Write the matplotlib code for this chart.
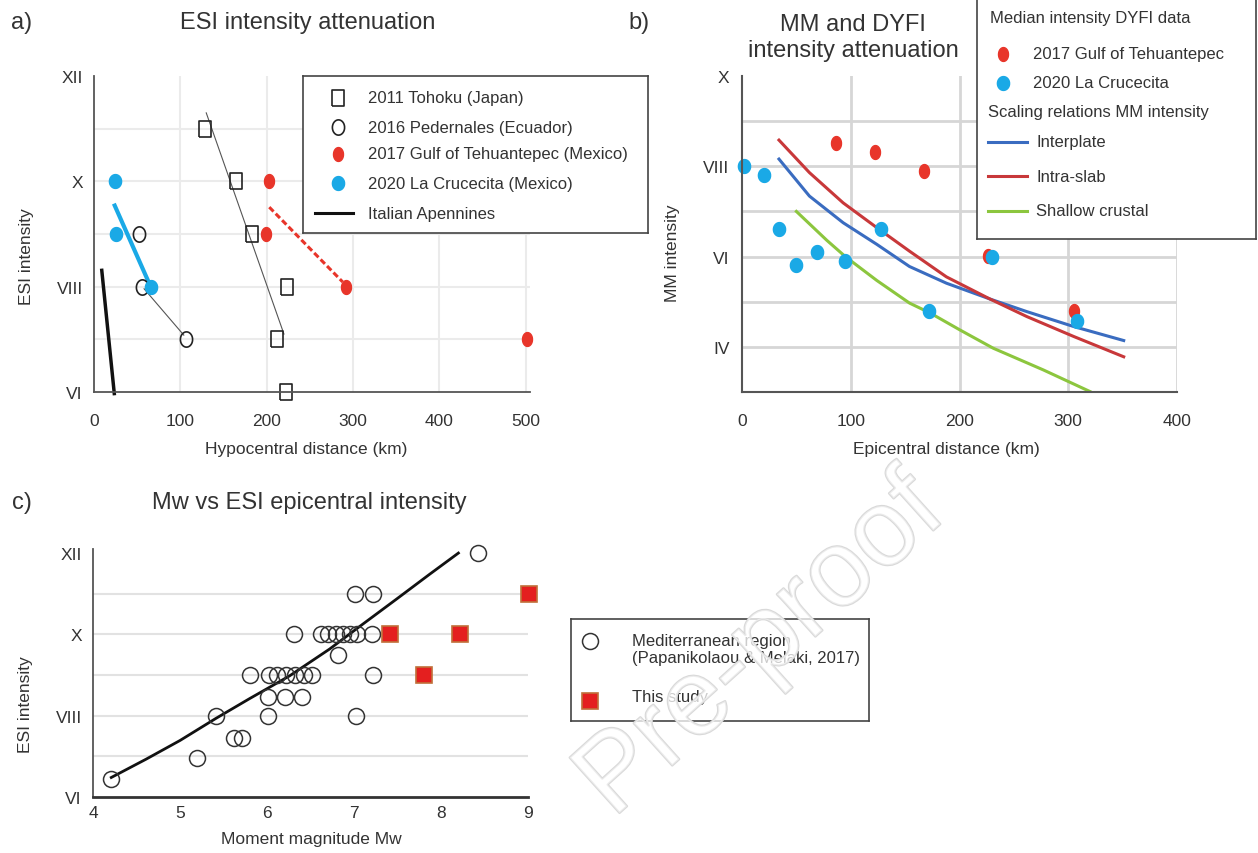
import matplotlib
matplotlib.use("Agg")
import matplotlib.pyplot as plt
import matplotlib.patheffects as pe
import numpy as np

plt.rcParams['font.family'] = ['Liberation Sans', 'DejaVu Sans']
plt.rcParams['text.color'] = '#333333'

W, H = 1258, 854

# a) ESI intensity vs hypocentral distance (km)
tohoku_km = [128, 164, 183, 224, 212, 222]
tohoku_esi = [11, 10, 9, 8, 7, 6]
tohoku_fit_km = [130, 220]
tohoku_fit_esi = [11.3, 7.1]
pedernales_km = [52, 56, 107]
pedernales_esi = [9, 8, 7]
pedernales_fit_km = [58, 104]
pedernales_fit_esi = [7.96, 7.08]
tehuantepec_km = [203, 199, 292, 501]
tehuantepec_esi = [10, 9, 8, 7]
tehuantepec_fit_km = [203, 288]
tehuantepec_fit_esi = [9.51, 8.09]
crucecita_km = [24, 25, 66]
crucecita_esi = [10, 9, 8]
crucecita_fit_km = [24, 64]
crucecita_fit_esi = [9.54, 8.06]
apennines_km = [9, 23.5]
apennines_esi = [8.31, 5.97]

# b) MM / DYFI intensity vs epicentral distance (km)
dyfi_teh_km = [86, 122, 167, 226, 305]
dyfi_teh_mm = [8.51, 8.32, 7.90, 6.01, 4.80]
dyfi_cru_km = [1.5, 20, 34, 50, 69, 95, 128, 172, 230, 308]
dyfi_cru_mm = [8.0, 7.8, 6.6, 5.81, 6.10, 5.90, 6.6, 4.8, 6.0, 4.58]
curve_km = [34, 62, 93, 124, 154, 188, 228, 262, 305, 351]
interplate_mm = [8.16, 7.34, 6.75, 6.27, 5.78, 5.41, 5.06, 4.78, 4.45, 4.14]
intraslab_mm = [8.58, 7.86, 7.19, 6.64, 6.12, 5.55, 5.06, 4.67, 4.23, 3.78]
shallow_km = [50, 78, 95, 124, 154, 173, 200, 231, 277, 320]
shallow_mm = [7.0, 6.36, 6.0, 5.47, 4.97, 4.75, 4.38, 3.97, 3.49, 3.01]

# c) Mw vs ESI epicentral intensity
med_mw = [8.42, 7.01, 7.22,
          6.31, 6.62, 6.70, 6.79, 6.87, 6.95, 7.03, 7.21,
          6.82,
          5.81, 6.02, 6.12, 6.22, 6.32, 6.42, 6.52, 7.22,
          6.01, 6.21, 6.40,
          5.41, 6.01, 7.02,
          5.62, 5.71, 5.20, 4.21]
med_esi = [12, 11, 11,
           10, 10, 10, 10, 10, 10, 10, 10,
           9.5,
           9, 9, 9, 9, 9, 9, 9, 9,
           8.45, 8.45, 8.45,
           8, 8, 8,
           7.45, 7.45, 6.95, 6.45]
study_mw = [7.41, 8.22, 7.81, 9.01]
study_esi = [10, 10, 9, 11]
fit_mw = [4.21, 4.61, 5.0, 5.41, 5.80, 6.26, 6.72, 7.10, 7.49, 7.87, 8.20]
fit_esi = [6.48, 6.93, 7.39, 7.93, 8.42, 8.98, 9.64, 10.25, 10.87, 11.48, 12.0]

esi_ticks = [6, 8, 10, 12]
esi_labels = ['VI', 'VIII', 'X', 'XII']
mm_ticks = [4, 6, 8, 10]
mm_labels = ['IV', 'VI', 'VIII', 'X']

RED = '#e8352a'
BLUE = '#1aa9e6'


def rect(l, t, r, b):
    return [l / W, 1 - b / H, (r - l) / W, (b - t) / H]


def ftext(x, y, s, **kw):
    fig.text(x / W, 1 - y / H, s, **kw)


def ellipse(w, h):
    t = np.linspace(0, 2 * np.pi, 41)
    return np.column_stack([w * np.cos(t), h * np.sin(t)])


def box(w, h):
    return [(-w, -h), (w, -h), (w, h), (-w, h), (-w, -h)]


def style_axes(ax, lw=1.3):
    for s in ['top', 'right']:
        ax.spines[s].set_visible(False)
    for s in ['left', 'bottom']:
        ax.spines[s].set_color('#555555')
        ax.spines[s].set_linewidth(lw)
    ax.tick_params(which='both', length=0, labelsize=12.5, colors='#333333')


def grid_lines(ax, xs, ys, color, lw):
    for v in xs:
        ax.axvline(v, color=color, lw=lw, zorder=0)
    for v in ys:
        ax.axhline(v, color=color, lw=lw, zorder=0)


def legend_axes(l, t, r, b):
    lax = fig.add_axes(rect(l, t, r, b))
    lax.set_xlim(l, r)
    lax.set_ylim(b, t)
    lax.set_xticks([])
    lax.set_yticks([])
    for s in lax.spines.values():
        s.set_color('#444444')
        s.set_linewidth(1.2)
    return lax


fig = plt.figure(figsize=(W / 100, H / 100), dpi=100)

SQ = box(0.83, 1)
OV = ellipse(0.8, 1)
RD = ellipse(0.72, 1)
BD = ellipse(0.88, 1)

# ---------------- panel a ----------------
ax = fig.add_axes(rect(94, 77, 530, 393))
style_axes(ax)
ax.set_xlim(0, 505)
ax.set_ylim(6, 12)
ax.set_xticks([0, 100, 200, 300, 400, 500])
ax.set_yticks(esi_ticks, esi_labels)
grid_lines(ax, [100, 200, 300, 400, 500], [7, 8, 9, 10, 11], '#ebebeb', 1.5)
ax.tick_params(axis='x', pad=15)
ax.tick_params(axis='y', pad=8)

ax.plot(tohoku_fit_km, tohoku_fit_esi, color='#555555', lw=0.8)
ax.plot(pedernales_fit_km, pedernales_fit_esi, color='#555555', lw=0.8)
ax.plot(tehuantepec_fit_km, tehuantepec_fit_esi, color=RED, lw=2.2, dashes=(2, 1))
ax.plot(crucecita_fit_km, crucecita_fit_esi, color=BLUE, lw=3)
ax.plot(apennines_km, apennines_esi, color='#111111', lw=2.5, clip_on=False)
ax.plot(tohoku_km, tohoku_esi, ls='none', marker=SQ, ms=11, mfc='none', mec='#222222', mew=1.2, clip_on=False)
ax.plot(pedernales_km, pedernales_esi, ls='none', marker=OV, ms=11, mfc='none', mec='#222222', mew=1.2)
ax.plot(tehuantepec_km, tehuantepec_esi, ls='none', marker=RD, ms=10, color=RED, clip_on=False)
ax.plot(crucecita_km, crucecita_esi, ls='none', marker=BD, ms=10, color=BLUE)

ftext(11, 23, 'a)', fontsize=17, va='center')
ftext(308, 23, 'ESI intensity attenuation', fontsize=17, ha='center', va='center')
ftext(27, 257, 'ESI intensity', fontsize=12.5, rotation=90, ha='center', va='center')
ftext(306, 450, 'Hypocentral distance (km)', fontsize=12.5, ha='center', va='center')

lax = legend_axes(303, 77, 648, 234)
rows = [99, 128, 155, 184, 214]
lax.plot(338, rows[0], marker=SQ, ms=11, mfc='none', mec='#222222', mew=1.2)
lax.plot(338, rows[1], marker=OV, ms=11, mfc='none', mec='#222222', mew=1.2)
lax.plot(338, rows[2], marker=RD, ms=10, color=RED)
lax.plot(338, rows[3], marker=BD, ms=10, color=BLUE)
lax.plot([315, 353], [rows[4], rows[4]], color='#111111', lw=2.2)
for yy, s in zip(rows, ['2011 Tohoku (Japan)', '2016 Pedernales (Ecuador)',
                        '2017 Gulf of Tehuantepec (Mexico)', '2020 La Crucecita (Mexico)',
                        'Italian Apennines']):
    lax.text(368, yy, s, fontsize=12, va='center')

# ---------------- panel b ----------------
bx = fig.add_axes(rect(742, 77, 1177, 393))
style_axes(bx, lw=1.5)
bx.set_xlim(0, 400)
bx.set_ylim(3, 10)
bx.set_xticks([0, 100, 200, 300, 400])
bx.set_yticks(mm_ticks, mm_labels)
grid_lines(bx, [100, 200, 300, 400], [4, 5, 6, 7, 8, 9], '#d6d6d6', 2)
bx.tick_params(axis='x', pad=15)
bx.tick_params(axis='y', pad=9)

bx.plot(curve_km, interplate_mm, color='#3a6cc0', lw=2.2)
bx.plot(curve_km, intraslab_mm, color='#c8383a', lw=2.2)
bx.plot(shallow_km, shallow_mm, color='#8cc63e', lw=2.2)
bx.plot(dyfi_teh_km, dyfi_teh_mm, ls='none', marker=RD, ms=10, color=RED)
bx.plot(dyfi_cru_km, dyfi_cru_mm, ls='none', marker=BD, ms=10, color=BLUE, clip_on=False)

ftext(628, 23, 'b)', fontsize=17, va='center')
ftext(853, 38, 'MM and DYFI\nintensity attenuation', fontsize=17, ha='center',
      va='center', linespacing=1.2)
ftext(673, 253, 'MM intensity', fontsize=12.5, rotation=90, ha='center', va='center')
ftext(946, 450, 'Epicentral distance (km)', fontsize=12.5, ha='center', va='center')

lbx = legend_axes(977, -2, 1256, 240)
lbx.set_facecolor('white')
lbx.text(990, 18, 'Median intensity DYFI data', fontsize=12, va='center')
lbx.plot(1003, 55, marker=RD, ms=10, color=RED)
lbx.text(1033, 55, '2017 Gulf of Tehuantepec', fontsize=12, va='center')
lbx.plot(1003, 84, marker=BD, ms=10, color=BLUE)
lbx.text(1033, 84, '2020 La Crucecita', fontsize=12, va='center')
lbx.text(988, 113, 'Scaling relations MM intensity', fontsize=12, va='center')
for yy, c, s in [(143, '#3a6cc0', 'Interplate'), (177, '#c8383a', 'Intra-slab'),
                 (212, '#8cc63e', 'Shallow crustal')]:
    lbx.plot([988, 1027], [yy, yy], color=c, lw=2.2)
    lbx.text(1036, yy, s, fontsize=12, va='center')

# ---------------- panel c ----------------
cx = fig.add_axes(rect(93, 550, 528, 798))
style_axes(cx)
cx.spines['bottom'].set_linewidth(2)
cx.spines['bottom'].set_color('#333333')
cx.set_xlim(4, 9)
cx.set_ylim(6, 12.1)
cx.set_xticks([4, 5, 6, 7, 8, 9])
cx.set_yticks(esi_ticks, esi_labels)
grid_lines(cx, [], [7, 8, 9, 10, 11], '#e2e2e2', 1.5)
cx.tick_params(axis='x', pad=6)
cx.tick_params(axis='y', pad=8)

cx.plot(fit_mw, fit_esi, color='#111111', lw=2)
cx.plot(med_mw, med_esi, ls='none', marker='o', ms=11.5, mfc='none', mec='#333333', mew=1.1, clip_on=False)
cx.plot(study_mw, study_esi, ls='none', marker='s', ms=11.5, mfc='#e41f1f', mec='#c0703a', mew=1.2, clip_on=False)

ftext(12, 503, 'c)', fontsize=17, va='center')
ftext(309, 503, 'Mw vs ESI epicentral intensity', fontsize=17, ha='center', va='center')
ftext(26, 705, 'ESI intensity', fontsize=12.5, rotation=90, ha='center', va='center')
ftext(311, 840, 'Moment magnitude Mw', fontsize=12.5, ha='center', va='center')

lcx = legend_axes(571, 620, 869, 722)
lcx.plot(590, 642, marker='o', ms=11.5, mfc='none', mec='#333333', mew=1.1)
lcx.text(632, 650, 'Mediterranean region\n(Papanikolaou & Melaki, 2017)', fontsize=12,
         va='center', linespacing=1.15)
lcx.plot(590, 702, marker='s', ms=11.5, mfc='#e41f1f', mec='#c0703a', mew=1.2)
lcx.text(632, 698, 'This study', fontsize=12, va='center')

# watermark
fig.text(762 / W, 1 - 648 / H, 'Pre-proof', fontsize=78, rotation=42,
         ha='center', va='center', rotation_mode='anchor', color=(1, 1, 1, 0.5),
         path_effects=[pe.Stroke(linewidth=1.6, foreground='#d9d9d9'), pe.Normal()],
         zorder=20)

fig.savefig('out.png', dpi=100, facecolor='white')
